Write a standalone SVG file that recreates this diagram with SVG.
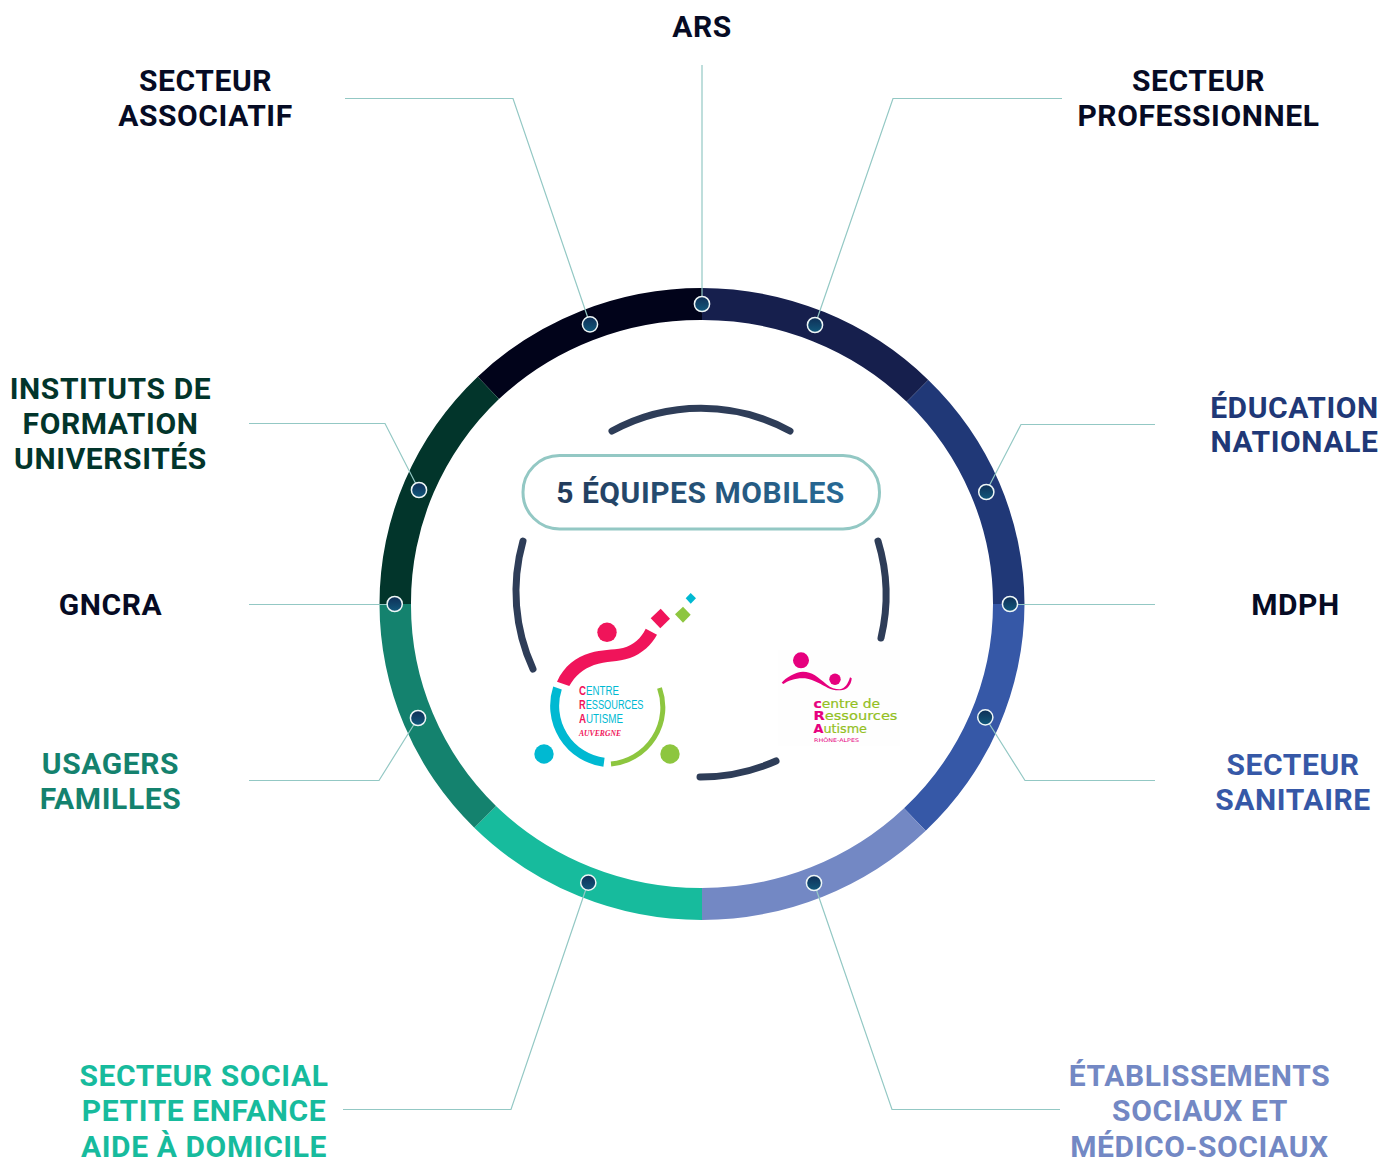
<svg xmlns="http://www.w3.org/2000/svg" width="1382" height="1160" viewBox="0 0 1382 1160">
<defs>
<linearGradient id="dot" x1="0" y1="0" x2="0" y2="1"><stop offset="0" stop-color="#0f2f57"/><stop offset="1" stop-color="#11597c"/></linearGradient>
<linearGradient id="title" gradientUnits="userSpaceOnUse" x1="557" y1="0" x2="844" y2="0"><stop offset="0" stop-color="#233b5b"/><stop offset="1" stop-color="#276a96"/></linearGradient>
<style>
text{font-family:Roboto,"Liberation Sans",sans-serif;font-weight:700;font-size:30px;text-anchor:middle;letter-spacing:.6px}
.lead{fill:none;stroke:#93c8c4;stroke-width:1.2}
.arc{fill:none;stroke:#2e3d58;stroke-width:7;stroke-linecap:round}
.dot{fill:url(#dot);stroke:#eef6f6;stroke-width:1.5}
.a{font-family:"Liberation Sans",Arial,sans-serif;font-size:12px;font-weight:400;letter-spacing:0;text-anchor:start;fill:#00b9d2}
.r{font-family:"DejaVu Sans",sans-serif;font-size:13px;font-weight:400;letter-spacing:0;text-anchor:start;fill:#93c01f;stroke:#93c01f;stroke-width:.2}
.pa{fill:#f0145a;font-weight:700}
.pr{fill:#e6007e;stroke:#e6007e;font-weight:700}
</style>
</defs>
<rect width="1382" height="1160" fill="#fff"/>
<g id="ring">
<path fill="#01031a" d="M477.700 376.700A322.500 316 0 0 1 702 288V320A291 284 0 0 0 499 399Z"/>
<path fill="#161f4d" d="M702 288A322.500 316 0 0 1 928.300 380L906.700 401.700A291 284 0 0 0 702 320Z"/>
<path fill="#203877" d="M928.300 380A322.500 316 0 0 1 1024.500 604H993A291 284 0 0 0 906.700 401.700Z"/>
<path fill="#3658a7" d="M1024.500 604A322.500 316 0 0 1 925.700 830.700L904 808.300A291 284 0 0 0 993 604Z"/>
<path fill="#7388c4" d="M925.700 830.700A322.500 316 0 0 1 702 920V888A291 284 0 0 0 904 808.300Z"/>
<path fill="#17bb9d" d="M702 920A322.500 316 0 0 1 474.300 827.700L496 806A291 284 0 0 0 702 888Z"/>
<path fill="#14826e" d="M474.300 827.700A322.500 316 0 0 1 379.500 604H411A291 284 0 0 0 496 806Z"/>
<path fill="#02352b" d="M379.500 604A322.500 316 0 0 1 477.700 376.700L499 399A291 284 0 0 0 411 604Z"/>
</g>
<g id="connectors">
<path class="lead" d="M345 98.500H513L590 324"/>
<path class="lead" d="M702 65V304"/>
<path class="lead" d="M1062 98.500H893L815 325"/>
<path class="lead" d="M1155 424.500H1021L986 492"/>
<path class="lead" d="M1155 604.500H1010"/>
<path class="lead" d="M1155 780.500H1025L985 717"/>
<path class="lead" d="M1060 1109.500H892L814 883"/>
<path class="lead" d="M343 1109.500H511L588 883"/>
<path class="lead" d="M249 780.500H379L418 718"/>
<path class="lead" d="M249 604.500H395"/>
<path class="lead" d="M249 423.500H385L419 490"/>
</g>
<g id="center">
<path class="arc" d="M612 431A185 185 0 0 1 790 431"/>
<path class="arc" d="M523 541A185 185 0 0 0 533 669"/>
<path class="arc" d="M878 541A185 185 0 0 1 881 638"/>
<path class="arc" d="M700 777A185 185 0 0 0 776 761"/>
<rect x="523" y="455.500" width="356.500" height="73.500" rx="36.500" fill="#fff" stroke="#93c8c4" stroke-width="3"/>
<text x="700.500" y="503" fill="url(#title)" style="letter-spacing:.55px">5 ÉQUIPES MOBILES</text>
</g>
<g id="logo-auvergne">
<circle cx="607" cy="632.300" r="9.700" fill="#f0145a"/>
<path d="M557 681.700C564 666 576 657 590 653C602 649.500 612 650 623 648C634 645 641 638 645.700 628.700L657 634.700C652 644 642 654 630 658C618 662 606 661 594 665C583 669 575 676 569.300 686Z" fill="#f0145a"/>
<path d="M650.700 618.300L660.700 608.700L670 618.700L660.300 628.300Z" fill="#f0145a"/>
<path d="M675 614.300L683 606.700L690.700 614.700L683 622.700Z" fill="#8dc63f"/>
<path d="M685.700 598.300L690.700 593L696 598.300L690.700 603.700Z" fill="#00b9d2"/>
<circle cx="544" cy="754" r="9.700" fill="#00b9d2"/>
<circle cx="670" cy="754" r="9.700" fill="#8dc63f"/>
<path d="M557.500 688A57 57 0 0 0 604 762.300" fill="none" stroke="#00b9d2" stroke-width="9"/>
<path d="M659.500 688A57 57 0 0 1 611 764" fill="none" stroke="#8dc63f" stroke-width="5"/>
<text class="a" x="579" y="695" textLength="40" lengthAdjust="spacingAndGlyphs"><tspan class="pa">C</tspan>ENTRE</text>
<text class="a" x="579" y="709" textLength="64.500" lengthAdjust="spacingAndGlyphs"><tspan class="pa">R</tspan>ESSOURCES</text>
<text class="a" x="579" y="723" textLength="44" lengthAdjust="spacingAndGlyphs"><tspan class="pa">A</tspan>UTISME</text>
<text x="579" y="736" fill="#f0145a" textLength="42" lengthAdjust="spacingAndGlyphs" style="font-family:'Liberation Serif',serif;font-style:italic;font-size:7.500px;text-anchor:start;letter-spacing:0">AUVERGNE</text>
</g>
<g id="logo-rhone-alpes">
<rect x="778" y="650" width="122" height="96" fill="#fefefe"/>
<circle cx="801" cy="660.300" r="8" fill="#e6007e"/>
<circle cx="835" cy="679.300" r="5.700" fill="#e6007e"/>
<path d="M781.700 682.700C785 678 796 671.700 803 671.700C812 671.700 818 677 826.700 684.500C831 688 836 689.500 840 689.300C845 688.500 848 684 850 677.300L851.700 678.300C851.500 683 849 687 846 688.700C842 691 834 691 828 688C821 684.500 815 680 805 678.300C797 677.500 788 680.500 783.300 684Z" fill="#e6007e"/>
<text class="r" x="813.500" y="707.600" textLength="66.500" lengthAdjust="spacingAndGlyphs"><tspan class="pr">c</tspan>entre de</text>
<text class="r" x="813.500" y="720.300" textLength="84" lengthAdjust="spacingAndGlyphs"><tspan class="pr">R</tspan>essources</text>
<text class="r" x="813.500" y="732.800" textLength="53.500" lengthAdjust="spacingAndGlyphs"><tspan class="pr">A</tspan>utisme</text>
<text x="814" y="742.300" fill="#e6007e" textLength="45" lengthAdjust="spacingAndGlyphs" style="font-family:'DejaVu Sans',sans-serif;font-size:5px;font-weight:400;text-anchor:start;letter-spacing:0">RHÔNE-ALPES</text>
</g>
<g id="n-ars"><text x="702" y="37" fill="#060b24">ARS</text><circle class="dot" cx="702" cy="304" r="7.600"/></g>
<g id="n-associatif"><text x="205.500" y="91" fill="#060b24">SECTEUR</text><text x="205.500" y="126" fill="#060b24">ASSOCIATIF</text><circle class="dot" cx="590" cy="324.300" r="7.600"/></g>
<g id="n-professionnel"><text x="1198.500" y="91" fill="#060b24">SECTEUR</text><text x="1198.500" y="126" fill="#060b24">PROFESSIONNEL</text><circle class="dot" cx="815" cy="325" r="7.600"/></g>
<g id="n-education"><text x="1294.500" y="417.500" fill="#203877">ÉDUCATION</text><text x="1294.500" y="452" fill="#203877">NATIONALE</text><circle class="dot" cx="986.300" cy="492" r="7.600"/></g>
<g id="n-mdph"><text x="1295.500" y="615" fill="#060b24">MDPH</text><circle class="dot" cx="1010" cy="604" r="7.600"/></g>
<g id="n-sanitaire"><text x="1293" y="775" fill="#3658a7">SECTEUR</text><text x="1293" y="810" fill="#3658a7">SANITAIRE</text><circle class="dot" cx="985.300" cy="717.300" r="7.600"/></g>
<g id="n-etablissements"><text x="1199.500" y="1086" fill="#7388c4">ÉTABLISSEMENTS</text><text x="1200" y="1121" fill="#7388c4">SOCIAUX ET</text><text x="1199.500" y="1157" fill="#7388c4">MÉDICO-SOCIAUX</text><circle class="dot" cx="814" cy="883" r="7.600"/></g>
<g id="n-social"><text x="204" y="1086" fill="#17bb9d">SECTEUR SOCIAL</text><text x="204" y="1121" fill="#17bb9d">PETITE ENFANCE</text><text x="204" y="1157" fill="#17bb9d">AIDE À DOMICILE</text><circle class="dot" cx="588.300" cy="882.700" r="7.600"/></g>
<g id="n-usagers"><text x="110.500" y="774" fill="#14826e">USAGERS</text><text x="110.500" y="809" fill="#14826e">FAMILLES</text><circle class="dot" cx="418" cy="718" r="7.600"/></g>
<g id="n-gncra"><text x="110.500" y="615" fill="#060b24">GNCRA</text><circle class="dot" cx="394.700" cy="604" r="7.600"/></g>
<g id="n-instituts"><text x="110.500" y="399" fill="#02352b">INSTITUTS DE</text><text x="110.500" y="434" fill="#02352b">FORMATION</text><text x="110.500" y="469" fill="#02352b">UNIVERSITÉS</text><circle class="dot" cx="419" cy="490" r="7.600"/></g>
</svg>
